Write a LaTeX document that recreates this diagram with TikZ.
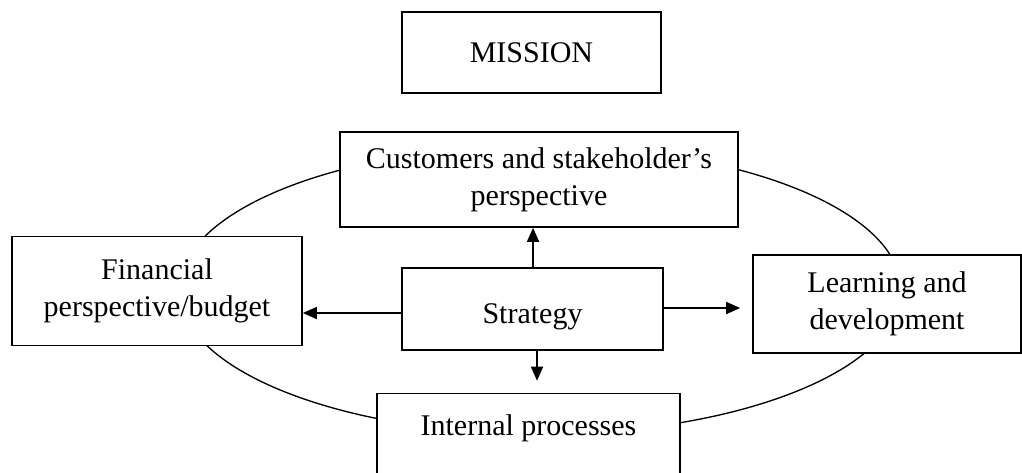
\documentclass[tikz,border=0pt]{standalone}
\usepackage{fontspec}
\setmainfont{Liberation Serif}
\usetikzlibrary{arrows.meta}
\tikzset{
  box/.style={draw=black, line width=1.2pt, fill=white, align=center, inner sep=0pt,
    font=\fontsize{22.5}{27.75}\selectfont},
  arr/.style={line width=1.2pt, -{Triangle[length=10.5pt,width=9pt]}},
  ring/.style={line width=1pt}
}
\begin{document}
\begin{tikzpicture}[x=0.75pt,y=-0.75pt]
\useasboundingbox (0,0) rectangle (1022,472);
\clip (0,0) rectangle (1022,472);
\draw[ring] (540,290) ellipse [x radius=361, y radius=144];
\node[box, minimum width=259*0.75pt, minimum height=81*0.75pt] (mis) at (531.5,52.5) {MISSION};
\node[box, minimum width=398*0.75pt, minimum height=95*0.75pt] (cust) at (539,179.5) {Customers and stakeholder’s\\perspective};
\node[box, minimum width=261*0.75pt, minimum height=82*0.75pt, text height=21pt, text depth=0pt] (strat) at (532.5,309) {Strategy};
\node[box, minimum width=290*0.75pt, minimum height=109*0.75pt] (fin) at (157,291) {Financial\\perspective/budget};
\node[box, minimum width=268*0.75pt, minimum height=98*0.75pt] (learn) at (887,304) {Learning and\\development};
\node[box, minimum width=303*0.75pt, minimum height=100*0.75pt] (int) at (528.5,443.5) {Internal processes\\\mbox{}};
\draw[arr] ([xshift=0.4pt]strat.north) -- ([xshift=0.4pt]strat.north |- cust.south);
\draw[arr] ([xshift=3.4pt]strat.south) -- ([xshift=3.4pt]strat.south |- int.north) [shorten >=9pt];
\draw[arr] ([yshift=-3pt]strat.west) -- ([yshift=-3pt]strat.west -| fin.east);
\draw[arr, shorten >=9pt] ([yshift=0.75pt]strat.east) -- ([yshift=0.75pt]strat.east -| learn.west);
\end{tikzpicture}
\end{document}
